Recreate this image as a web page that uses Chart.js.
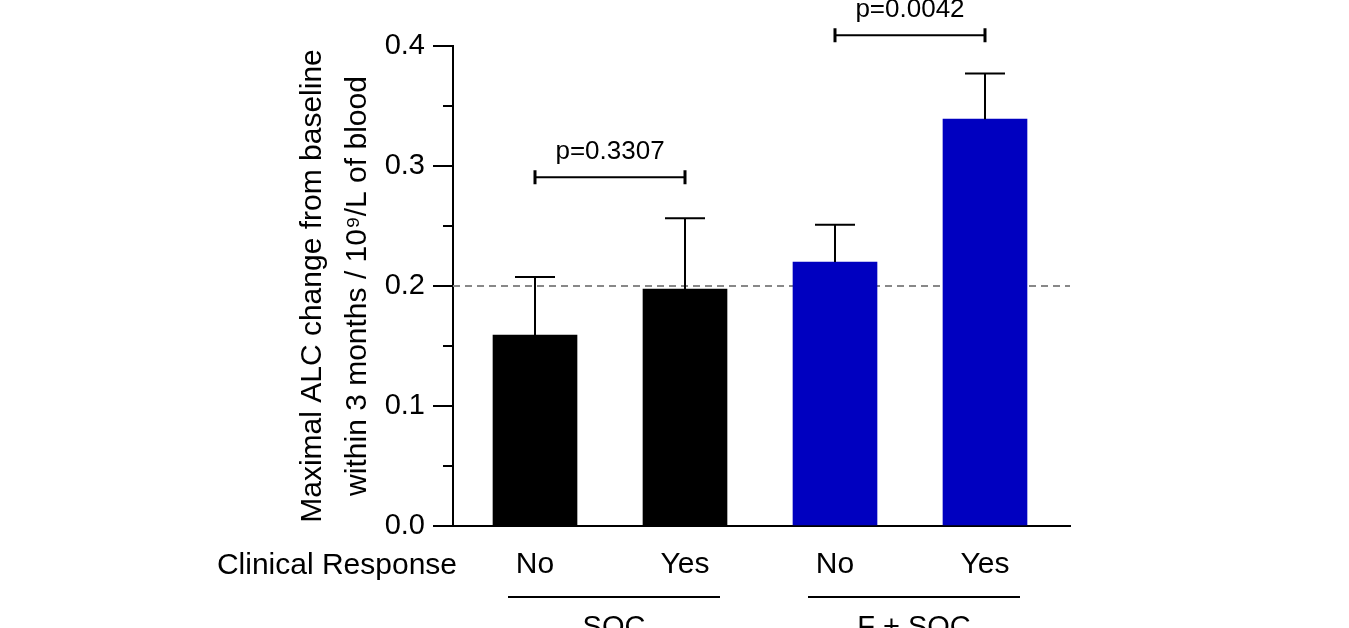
<!DOCTYPE html>
<html>
<head>
<meta charset="utf-8">
<script src="https://cdn.jsdelivr.net/npm/chart.js@4"></script>
<style>
  html, body { margin: 0; padding: 0; background: #fff; }
  #wrap { width: 1349px; height: 628px; }
</style>
</head>
<body>
<div id="wrap"><canvas id="myChart"></canvas></div>
<script>
// data
const categories = ['No', 'Yes', 'No', 'Yes'];
const positions = [1, 2, 3, 4];
const groupNames = ['SOC', 'F + SOC'];
const means = [0.159, 0.1975, 0.22, 0.339];
const errUp = [0.0485, 0.059, 0.031, 0.038];
const barColors = ['#000000', '#000000', '#0000c0', '#0000c0'];
const yTicks = [0, 0.1, 0.2, 0.3, 0.4];
const refLine = 0.2;
const pLabels = ['p=0.3307', 'p=0.0042'];
const pLevels = [0.2906, 0.409];

const FONT = 'Liberation Sans, Arial, sans-serif';

const extras = {
    id: 'extras',
    beforeDatasetsDraw(chart) {
        const { ctx, chartArea, scales: { y } } = chart;
        ctx.save();
        // dashed reference line, behind the bars
        ctx.strokeStyle = '#888888';
        ctx.lineWidth = 2;
        ctx.setLineDash([7, 5]);
        ctx.beginPath();
        ctx.moveTo(chartArea.left, y.getPixelForValue(refLine));
        ctx.lineTo(chartArea.right, y.getPixelForValue(refLine));
        ctx.stroke();
        ctx.restore();
    },
    afterDatasetsDraw(chart) {
        const { ctx, chartArea, scales: { x, y } } = chart;
        ctx.save();
        ctx.strokeStyle = '#000';
        ctx.fillStyle = '#000';
        ctx.lineWidth = 2;

        // minor ticks
        for (let v = 0.05; v < 0.4; v += 0.1) {
            const py = Math.round(y.getPixelForValue(v));
            ctx.beginPath();
            ctx.moveTo(chartArea.left - 10, py);
            ctx.lineTo(chartArea.left, py);
            ctx.stroke();
        }

        // error bars (upper only)
        means.forEach((m, i) => {
            const cx = x.getPixelForValue(positions[i]);
            const y0 = y.getPixelForValue(m);
            const y1 = y.getPixelForValue(m + errUp[i]);
            ctx.beginPath();
            ctx.moveTo(cx, y0);
            ctx.lineTo(cx, y1);
            ctx.moveTo(cx - 20, y1);
            ctx.lineTo(cx + 20, y1);
            ctx.stroke();
        });

        // significance brackets
        ctx.font = '26px ' + FONT;
        ctx.textAlign = 'center';
        ctx.textBaseline = 'middle';
        [[0, 1], [2, 3]].forEach((pair, k) => {
            const xa = x.getPixelForValue(positions[pair[0]]);
            const xb = x.getPixelForValue(positions[pair[1]]);
            const py = y.getPixelForValue(pLevels[k]);
            ctx.beginPath();
            ctx.moveTo(xa, py);
            ctx.lineTo(xb, py);
            ctx.stroke();
            ctx.lineWidth = 3;
            ctx.beginPath();
            ctx.moveTo(xa, py - 7);
            ctx.lineTo(xa, py + 7);
            ctx.moveTo(xb, py - 7);
            ctx.lineTo(xb, py + 7);
            ctx.stroke();
            ctx.lineWidth = 2;
            ctx.fillText(pLabels[k], (xa + xb) / 2, py - 25);
        });

        // row label and group lines
        ctx.font = '30px ' + FONT;
        ctx.textAlign = 'right';
        ctx.fillText('Clinical Response', 457, 566);

        ctx.font = '29px ' + FONT;
        ctx.textAlign = 'center';
        [[0, 1], [2, 3]].forEach((pair, k) => {
            const xa = x.getPixelForValue(positions[pair[0]]) - 27;
            const xb = x.getPixelForValue(positions[pair[1]]) + 35;
            ctx.beginPath();
            ctx.moveTo(xa, 597);
            ctx.lineTo(xb, 597);
            ctx.stroke();
            ctx.fillText(groupNames[k], (xa + xb) / 2, 628);
        });
        ctx.restore();
    }
};

const ctx1 = document.getElementById('myChart').getContext('2d');
const myChart = new Chart(ctx1, {
    type: 'bar',
    data: {
        datasets: [{
            data: positions.map((p, i) => ({ x: p, y: means[i] })),
            backgroundColor: barColors,
            barThickness: 84,
            borderWidth: 0
        }]
    },
    options: {
        responsive: true,
        maintainAspectRatio: false,
        animation: false,
        layout: { padding: { left: 280, right: 279, top: 46, bottom: 0 } },
        plugins: {
            legend: { display: false },
            tooltip: { enabled: false }
        },
        scales: {
            x: {
                type: 'linear',
                offset: false,
                min: 0.4533,
                max: 4.5667,
                afterBuildTicks: (scale) => { scale.ticks = positions.map(v => ({ value: v })); },
                afterFit: (scale) => { scale.height = 102; },
                ticks: {
                    autoSkip: false,
                    maxRotation: 0,
                    padding: 21,
                    color: '#000',
                    font: { family: FONT, size: 30 },
                    callback: (v) => categories[positions.indexOf(v)]
                },
                grid: { display: false, drawTicks: false, offset: false },
                border: { display: true, color: '#000', width: 2 }
            },
            y: {
                min: 0,
                max: 0.4,
                afterBuildTicks: (scale) => { scale.ticks = yTicks.map(v => ({ value: v })); },
                afterFit: (scale) => { scale.width = 173; },
                ticks: {
                    padding: 8,
                    color: '#000',
                    font: { family: FONT, size: 29 },
                    callback: (v) => v.toFixed(1)
                },
                grid: { drawOnChartArea: false, color: '#000', lineWidth: 2, tickLength: 20 },
                border: { display: true, color: '#000', width: 2 },
                title: {
                    display: true,
                    text: ['Maximal ALC change from baseline', 'within 3 months / 10\u2079/L of blood'],
                    color: '#000',
                    font: { family: FONT, size: 30, lineHeight: 1.5 },
                    padding: { top: 10, bottom: 0 }
                }
            }
        }
    },
    plugins: [extras]
});
</script>
</body>
</html>
